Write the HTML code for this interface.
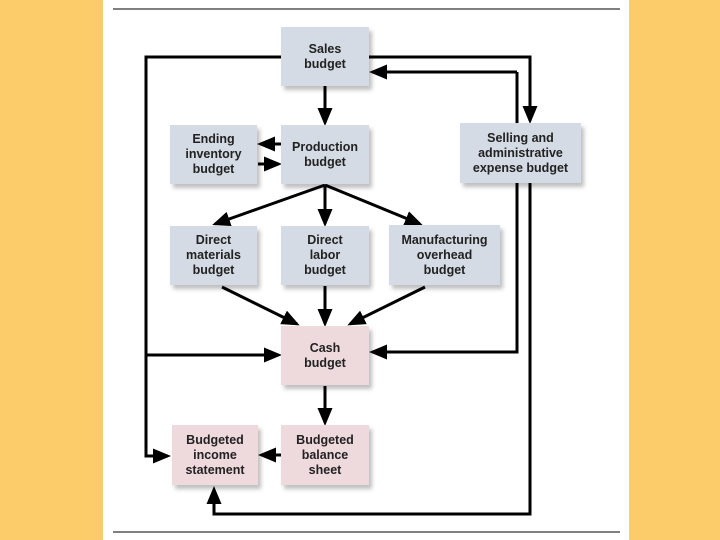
<!DOCTYPE html>
<html><head><style>
body{margin:0;width:720px;height:540px;overflow:hidden;background:#fff;position:relative;font-family:"Liberation Sans",Arial,sans-serif}
.bar{position:absolute;top:0;height:540px;background:#FCCB6A}
.b{position:absolute;display:flex;align-items:center;justify-content:center;text-align:center;font-weight:bold;font-size:12.5px;line-height:15px;color:#222;box-shadow:3px 4px 4px rgba(0,0,0,.25)}
.g{background:#D4DBE4}.p{background:#EED9DD}
</style></head><body>
<div class="bar" style="left:0;width:103px"></div>
<div class="bar" style="left:629px;width:91px"></div>
<svg width="720" height="540" style="position:absolute;left:0;top:0">
<defs><marker id="a" markerWidth="6" markerHeight="6" refX="5" refY="3" orient="auto" markerUnits="strokeWidth"><path d="M0,0.5 L6,3 L0,5.5 z" fill="#000"/></marker></defs>
<g stroke="#000" stroke-width="3" fill="none">
<line x1="113" y1="9" x2="620" y2="9" stroke-width="1"/>
<line x1="113" y1="532" x2="620" y2="532" stroke-width="1"/>
<polyline points="281,57 146,57 146,456 168,456" marker-end="url(#a)"/>
<polyline points="146,355 279,355" marker-end="url(#a)"/>
<polyline points="369,57 530,57 530,121" marker-end="url(#a)"/>
<polyline points="517,72 517,352 372,352" marker-end="url(#a)"/>
<polyline points="517,72 372,72" marker-end="url(#a)"/>
<polyline points="530,183 530,514 214,514 214,489" marker-end="url(#a)"/>
<line x1="325" y1="86" x2="325" y2="123" marker-end="url(#a)"/>
<line x1="281" y1="144" x2="260" y2="144" marker-end="url(#a)"/>
<line x1="258" y1="164" x2="279" y2="164" marker-end="url(#a)"/>
<line x1="325" y1="185" x2="215" y2="224" marker-end="url(#a)"/>
<line x1="325" y1="185" x2="325" y2="224" marker-end="url(#a)"/>
<line x1="325" y1="185" x2="420" y2="224" marker-end="url(#a)"/>
<line x1="222" y1="287" x2="297" y2="324" marker-end="url(#a)"/>
<line x1="325" y1="286" x2="325" y2="324" marker-end="url(#a)"/>
<line x1="425" y1="287" x2="350" y2="324" marker-end="url(#a)"/>
<line x1="325" y1="386" x2="325" y2="423" marker-end="url(#a)"/>
<line x1="281" y1="455" x2="261" y2="455" marker-end="url(#a)"/>
</g></svg>
<div class="b g" style="left:281px;top:27px;width:88px;height:59px">Sales<br>budget</div>
<div class="b g" style="left:281px;top:125px;width:88px;height:59px">Production<br>budget</div>
<div class="b g" style="left:170px;top:125px;width:87px;height:59px">Ending<br>inventory<br>budget</div>
<div class="b g" style="left:460px;top:123px;width:121px;height:60px">Selling and<br>administrative<br>expense budget</div>
<div class="b g" style="left:170px;top:226px;width:87px;height:59px">Direct<br>materials<br>budget</div>
<div class="b g" style="left:281px;top:226px;width:88px;height:59px">Direct<br>labor<br>budget</div>
<div class="b g" style="left:389px;top:225px;width:111px;height:60px">Manufacturing<br>overhead<br>budget</div>
<div class="b p" style="left:281px;top:326px;width:88px;height:59px">Cash<br>budget</div>
<div class="b p" style="left:172px;top:425px;width:86px;height:60px">Budgeted<br>income<br>statement</div>
<div class="b p" style="left:281px;top:425px;width:88px;height:60px">Budgeted<br>balance<br>sheet</div>
</body></html>
